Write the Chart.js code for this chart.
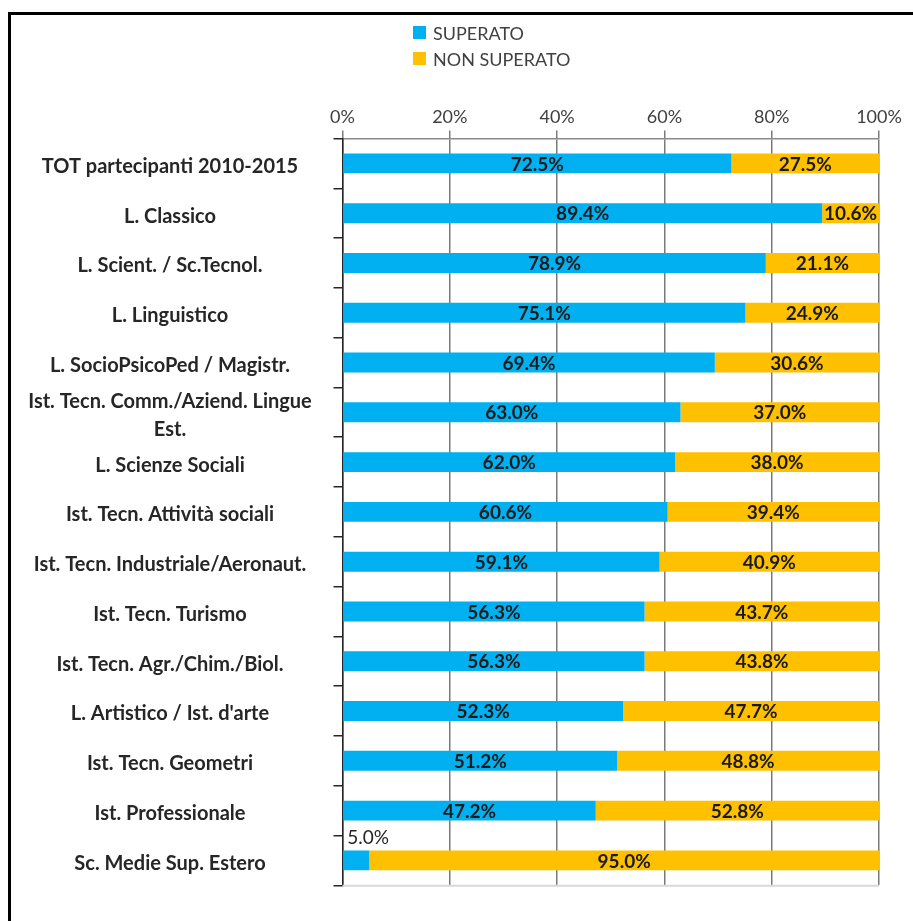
<!DOCTYPE html>
<html>
<head>
<meta charset="utf-8">
<script src="https://cdn.jsdelivr.net/npm/chart.js"></script>
<style>
html, body { margin: 0; padding: 0; background: #fff; overflow: hidden; }
#frame { position: absolute; left: 8px; top: 12px; width: 1000px; height: 1000px; border: 3px solid #000; }
#c { position: absolute; left: 0; top: 0; }
</style>
</head>
<body>
<div id="frame"></div>
<canvas id="c" width="913" height="921"></canvas>
<script>
const categories = [
    'TOT partecipanti 2010-2015',
    'L. Classico',
    'L. Scient. / Sc.Tecnol.',
    'L. Linguistico',
    'L. SocioPsicoPed / Magistr.',
    ['Ist. Tecn. Comm./Aziend. Lingue', 'Est.'],
    'L. Scienze Sociali',
    'Ist. Tecn. Attività sociali',
    'Ist. Tecn. Industriale/Aeronaut.',
    'Ist. Tecn. Turismo',
    'Ist. Tecn. Agr./Chim./Biol.',
    "L. Artistico / Ist. d'arte",
    'Ist. Tecn. Geometri',
    'Ist. Professionale',
    'Sc. Medie Sup. Estero'
];
const superato = [72.5, 89.4, 78.9, 75.1, 69.4, 63.0, 62.0, 60.6, 59.1, 56.3, 56.3, 52.3, 51.2, 47.2, 5.0];
const nonSuperato = [27.5, 10.6, 21.1, 24.9, 30.6, 37.0, 38.0, 39.4, 40.9, 43.7, 43.8, 47.7, 48.8, 52.8, 95.0];
const xTicks = [0, 20, 40, 60, 80, 100];

const labelFont = 'bold 20px Lato';

// measure widest category label so the labels can be centred at x~170
const mctx = document.createElement('canvas').getContext('2d');
mctx.font = labelFont;
let widest = 0;
categories.forEach(function(c) {
    [].concat(c).forEach(function(line) {
        widest = Math.max(widest, mctx.measureText(line).width);
    });
});
const yPad = Math.max(4, (342.5 - 9) - 170 - widest / 2);

const legendBox = {
    id: 'legendBox',
    afterDraw: function(chart) {
        const ctx = chart.ctx;
        ctx.save();
        ctx.font = '18px Lato';
        ctx.textBaseline = 'middle';
        ctx.textAlign = 'left';
        chart.data.datasets.forEach(function(ds, i) {
            const y = 33 + i * 26;
            ctx.fillStyle = ds.backgroundColor;
            ctx.fillRect(413, y - 7, 13, 13);
            ctx.fillStyle = '#404040';
            ctx.fillText(ds.label, 433, y + 1);
        });
        ctx.restore();
    }
};

const barLabels = {
    id: 'barLabels',
    afterDatasetsDraw: function(chart) {
        const ctx = chart.ctx;
        const area = chart.chartArea;
        ctx.save();
        // light bottom line
        ctx.strokeStyle = '#d9d9d9';
        ctx.lineWidth = 2;
        ctx.beginPath();
        ctx.moveTo(area.left, area.bottom + 0.5);
        ctx.lineTo(area.right, area.bottom + 0.5);
        ctx.stroke();

        ctx.textBaseline = 'middle';
        chart.data.datasets.forEach(function(ds, di) {
            chart.getDatasetMeta(di).data.forEach(function(bar, i) {
                const text = ds.data[i].toFixed(1) + '%';
                const w = Math.abs(bar.x - bar.base);
                ctx.font = 'bold 19px Lato';
                if (ctx.measureText(text).width > w + 10) {
                    ctx.font = '19px Lato';
                    ctx.fillStyle = '#262626';
                    ctx.textAlign = 'left';
                    ctx.fillText(text, Math.min(bar.x, bar.base) + 4, bar.y - bar.height / 2 - 13);
                } else {
                    ctx.fillStyle = '#1a1a1a';
                    ctx.textAlign = 'center';
                    ctx.fillText(text, (bar.x + bar.base) / 2, bar.y + 1);
                }
            });
        });
        ctx.restore();
    }
};

new Chart(document.getElementById('c'), {
    type: 'bar',
    data: {
        labels: categories,
        datasets: [{
            label: 'SUPERATO',
            data: superato,
            backgroundColor: '#00B0F0',
            barPercentage: 0.4,
            categoryPercentage: 1
        }, {
            label: 'NON SUPERATO',
            data: nonSuperato,
            backgroundColor: '#FFC000',
            barPercentage: 0.4,
            categoryPercentage: 1
        }]
    },
    options: {
        indexAxis: 'y',
        responsive: false,
        animation: false,
        layout: {
            padding: { top: 100, right: 34, bottom: 18, left: 0 }
        },
        plugins: {
            legend: { display: false },
            tooltip: { enabled: false }
        },
        scales: {
            x: {
                type: 'linear',
                position: 'top',
                stacked: true,
                min: 0,
                max: 100,
                afterBuildTicks: function(scale) {
                    scale.ticks = xTicks.map(function(v) { return { value: v }; });
                },
                afterFit: function(scale) { scale.height = 38.5; },
                ticks: {
                    padding: 3,
                    color: '#404040',
                    font: { family: 'Lato', size: 18 },
                    callback: function(v) { return v + '%'; }
                },
                grid: {
                    color: '#7a7a7a',
                    lineWidth: 1.5,
                    tickLength: 8
                },
                border: { color: '#8a8a8a', width: 1.5 }
            },
            y: {
                stacked: true,
                afterFit: function(scale) { scale.width = 342.5; },
                ticks: {
                    autoSkip: false,
                    crossAlign: 'center',
                    padding: yPad,
                    labelOffset: 3,
                    color: '#262626',
                    font: { family: 'Lato', size: 20, weight: 'bold', lineHeight: 1.4 }
                },
                grid: {
                    offset: true,
                    drawOnChartArea: false,
                    tickLength: 9,
                    tickColor: '#262626',
                    lineWidth: 1.5
                },
                border: { color: '#262626', width: 1.5 }
            }
        }
    },
    plugins: [legendBox, barLabels]
});
</script>
</body>
</html>
